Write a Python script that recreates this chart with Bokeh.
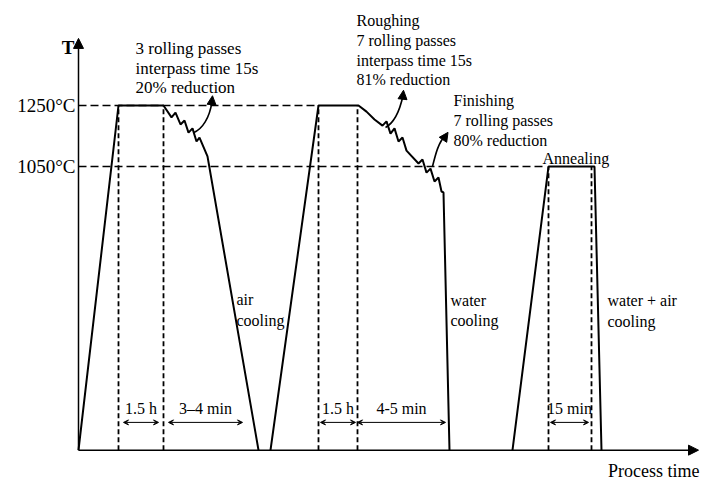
from bokeh.plotting import figure
from bokeh.models import Arrow, NormalHead, VeeHead, ColumnDataSource, Range1d
from bokeh.core.properties import value
from bokeh.embed import file_html
from bokeh.resources import INLINE

FONT = "Liberation Serif"

# ---- data: schematic process time (arbitrary units) and temperature (°C) ----
T_BASE = 120
tick_values = [1250, 1050]
tick_labels = ["1250°C", "1050°C"]

# reheating + 3 rolling passes + air cooling
stage1_time = [0, 40, 85, 93, 97, 102, 106, 110, 114, 118, 121, 129, 180]
stage1_temp = [T_BASE, 1250, 1250, 1211, 1227, 1188, 1201, 1161, 1175, 1132, 1145, 1083, T_BASE]

# reheating + roughing (7 passes) + finishing (7 passes) + water cooling
stage2_time = [192, 240, 280, 288, 296, 304, 308, 312, 316, 320, 324, 328,
               340, 344, 348, 352, 356, 360, 363, 365, 371]
stage2_temp = [T_BASE, 1250, 1250, 1230, 1204, 1184, 1198, 1158, 1175, 1132, 1145, 1102,
               1060, 1073, 1030, 1043, 1001, 1014, 968, 965, T_BASE]

# annealing + water + air cooling
stage3_time = [434, 470, 516, 523]
stage3_temp = [T_BASE, 1050, 1050, T_BASE]

# guide lines
hold_marks_hot = [40, 85, 240, 279]
hold_marks_anneal = [470, 513]
hot_guide_end = 240
anneal_guide_end = 466

# interval dimensions
dim_start = [45, 90, 242, 279, 472]
dim_end = [80, 164, 277, 367, 510]
dim_labels = ["1.5 h", "3–4 min", "1.5 h", "4-5 min", "15 min"]

X_MIN, X_MAX = -78, 622
Y_MIN, Y_MAX = 20.5, 1594.3
AXIS_X_END = 620
AXIS_Y_END = 1470

p = figure(width=700, height=480, output_backend="svg", toolbar_location=None,
           x_range=Range1d(X_MIN, X_MAX), y_range=Range1d(Y_MIN, Y_MAX),
           min_border=0, outline_line_color=None)
p.axis.visible = False
p.grid.visible = False
p.background_fill_color = "white"

# guide dashed lines
p.segment(x0=[0, 0], y0=tick_values, x1=[hot_guide_end, anneal_guide_end], y1=tick_values,
          line_color="black", line_width=1.4, line_dash="8 4")
p.segment(x0=hold_marks_hot, y0=[T_BASE] * 4, x1=hold_marks_hot, y1=[1250] * 4,
          line_color="black", line_width=1.8, line_dash="5 3")
p.segment(x0=hold_marks_anneal, y0=[T_BASE] * 2, x1=hold_marks_anneal, y1=[1050] * 2,
          line_color="black", line_width=1.8, line_dash="5 3")

# temperature profiles
for t, T in [(stage1_time, stage1_temp), (stage2_time, stage2_temp), (stage3_time, stage3_temp)]:
    p.line(t, T, line_color="black", line_width=2)

# axes drawn as arrows
p.add_layout(Arrow(x_start=0, y_start=T_BASE, x_end=0, y_end=AXIS_Y_END,
                   line_width=1.5, end=NormalHead(size=10, fill_color="black", line_color="black")))
p.add_layout(Arrow(x_start=0, y_start=T_BASE, x_end=AXIS_X_END, y_end=T_BASE,
                   line_width=1.5, end=NormalHead(size=10, fill_color="black", line_color="black")))

# curved pointer arrows to the rolling annotations
bz = dict(x0=[115, 307, 354], y0=[1161, 1178, 1050],
          cx0=[124, 315, 357], cy0=[1172, 1192, 1090],
          cx1=[131, 321, 360], cy1=[1210, 1230, 1130],
          x1=[133.5, 324.5, 367], y1=[1262, 1282, 1152])
p.bezier(x0="x0", y0="y0", x1="x1", y1="y1", cx0="cx0", cy0="cy0", cx1="cx1", cy1="cy1",
         source=ColumnDataSource(bz), line_color="black", line_width=1.6)
for xs, ys, xe, ye in [(133, 1250, 134, 1282), (324, 1270, 325, 1300), (366, 1145, 369.5, 1162)]:
    p.add_layout(Arrow(x_start=xs, y_start=ys, x_end=xe, y_end=ye, line_width=1.5,
                       end=NormalHead(size=9, fill_color="black", line_color="black")))

# interval dimension arrows
DIM_T = 211
for s, e in zip(dim_start, dim_end):
    p.add_layout(Arrow(x_start=s, y_start=DIM_T, x_end=e, y_end=DIM_T, line_width=1,
                       start=VeeHead(size=5, line_width=1), end=VeeHead(size=5, line_width=1)))
p.text(x=[(s + e) / 2 for s, e in zip(dim_start, dim_end)], y=[257] * 5, text=dim_labels,
       text_font=value(FONT), text_font_size="16px", text_align="center",
       text_baseline="middle", text_color="black")

# temperature tick labels
p.text(x=[-3, -3], y=tick_values, text=tick_labels, text_font=value(FONT),
       text_font_size="19px", text_align="right", text_baseline="middle", text_color="black")
p.text(x=[-4], y=[1440], text=["T"], text_font=value(FONT), text_font_size="19px",
       text_font_style="bold", text_align="right", text_baseline="middle", text_color="black")
p.text(x=[621], y=[53], text=["Process time"], text_font=value(FONT), text_font_size="18px",
       text_align="right", text_baseline="middle", text_color="black")


def block(x, ys, lines, size="16px"):
    p.text(x=[x] * len(lines), y=ys, text=lines, text_font=value(FONT), text_font_size=size,
           text_align="left", text_baseline="middle", text_color="black")


block(57, [1437, 1371, 1309], ["3 rolling passes", "interpass time 15s", "20% reduction"], "17px")
block(278, [1529, 1463, 1398, 1335],
      ["Roughing", "7 rolling passes", "interpass time 15s", "81% reduction"])
block(375, [1266, 1201, 1135], ["Finishing", "7 rolling passes", "80% reduction"])
block(464, [1076], ["Annealing"])
block(158, [614, 545], ["air", "cooling"])
block(372, [611, 545], ["water", "cooling"])
block(529, [611, 542], ["water + air", "cooling"])

open("out.html", "w").write(file_html(p, INLINE))
